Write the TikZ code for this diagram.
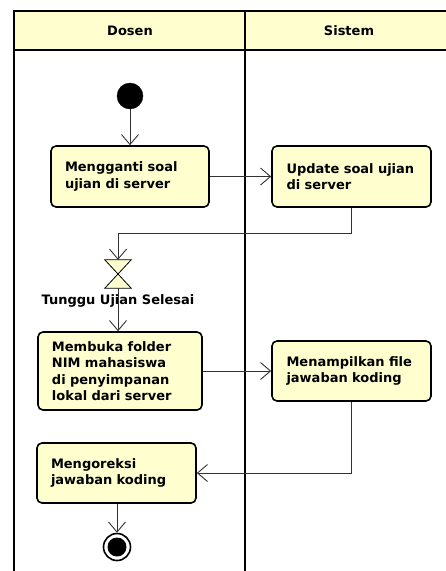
\documentclass[tikz,border=0pt]{standalone}
\usepackage{fontspec}
\setmainfont{DejaVu Sans}
\usetikzlibrary{arrows.meta,calc}
\definecolor{umlfill}{HTML}{FEFECE}
\definecolor{flowcol}{HTML}{333333}
\tikzset{
  act/.style={draw=black, line width=1.6pt, rounded corners=5pt, fill=umlfill,
    align=left, inner xsep=0pt, inner ysep=0pt,
    font=\fontsize{13}{16.5}\selectfont\bfseries},
  flow/.style={draw=flowcol, line width=0.9pt,
    -{Straight Barb[length=10pt,width=17pt,line width=0.9pt]}},
  lane/.style={draw=black, line width=2pt},
  hdr/.style={font=\fontsize{13}{16}\selectfont\bfseries}
}
\begin{document}
\begin{tikzpicture}[x=1pt,y=-1pt]
\useasboundingbox (0,0) rectangle (446,571);
\clip (0,0) rectangle (446,571);
% swimlanes
\path[lane, fill=umlfill] (14,11) rectangle (470,50);
\draw[lane] (14,11) -- (14,590);
\draw[lane] (245,11) -- (245,590);
\node[hdr] (hd) at (130,30.5) {Dosen};
\node[hdr] (hs) at (349,30.5) {Sistem};
% nodes
\node[circle, fill=black, draw=black, minimum size=26pt, inner sep=0pt] (start) at (130,96) {};
\node[act, minimum width=158pt, minimum height=61pt, text width=130pt] (a1) at (130,176.5) {Mengganti soal\\ujian di server};
\node[act, minimum width=159pt, minimum height=61pt, text width=130pt] (a2) at (351.5,176.5) {Update soal ujian\\di server};
\node[minimum width=26pt, minimum height=28pt, inner sep=0pt] (wait) at (118,274) {};
\draw[fill=umlfill, draw=black, line width=0.8pt, line join=miter]
  (wait.north west) -- (wait.north east) -- (wait.south west) -- (wait.south east) -- cycle;
\node[font=\fontsize{13}{16}\selectfont\bfseries] (waitlbl) at (118,301) {Tunggu Ujian Selesai};
\node[act, minimum width=164pt, minimum height=78pt, text width=136pt] (a3) at (120,371) {Membuka folder\\NIM mahasiswa\\di penyimpanan\\lokal dari server};
\node[act, minimum width=159pt, minimum height=60pt, text width=130pt] (a4) at (351.5,371) {Menampilkan file\\jawaban koding};
\node[act, minimum width=159pt, minimum height=60pt, text width=131pt] (a5) at (116.5,473) {Mengoreksi\\jawaban koding};
\node[circle, fill=white, draw=black, line width=1.6pt, minimum size=27pt, inner sep=0pt] (end) at (117,547) {};
\node[circle, fill=black, minimum size=19pt, inner sep=0pt] (endin) at (end.center) {};
% connectors
\coordinate (j1) at (118,233);
\draw[flow] (start.south) -- (a1.north);
\draw[flow] (a1.east) -- (a2.west);
\draw[flow] (a2.south) |- (j1) -- (wait.north);
\draw[flow] (wait.south) -- (wait.south |- a3.north);
\draw[flow] (a3.east) -- (a3.east -| a4.west);
\draw[flow] (a4.south) |- (a5.east);
\draw[flow] (a5.south -| end.north) -- (end.north);
\end{tikzpicture}
\end{document}
